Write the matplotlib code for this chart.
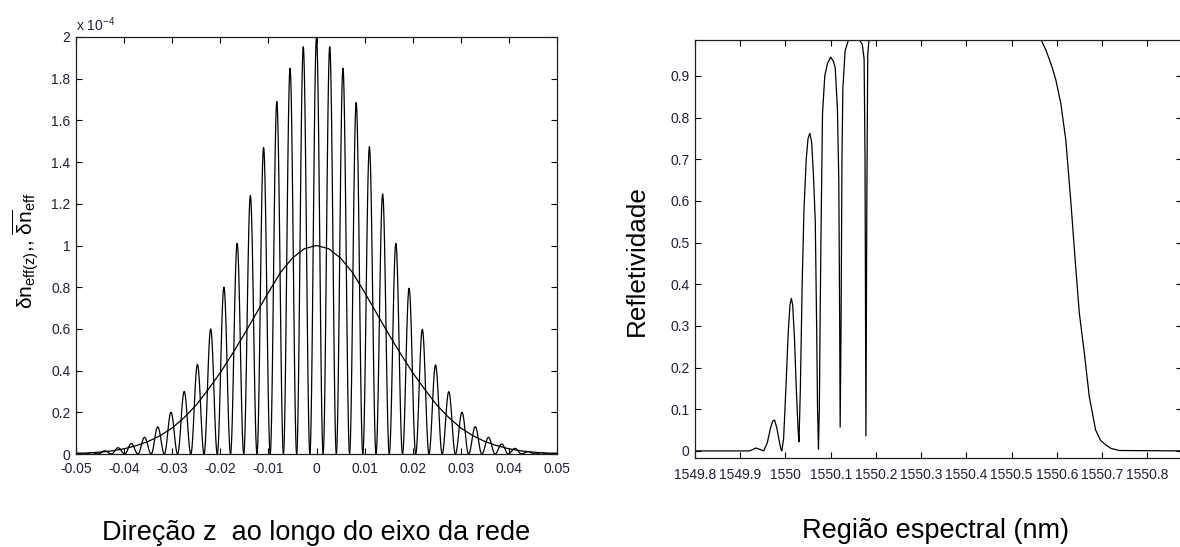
import numpy as np
import matplotlib
matplotlib.use("Agg")
import matplotlib.pyplot as plt
from matplotlib.ticker import FuncFormatter

plt.rcParams['font.family'] = ['Liberation Sans', 'DejaVu Sans']
plt.rcParams['mathtext.fontset'] = 'custom'
plt.rcParams['mathtext.rm'] = 'Liberation Sans'
plt.rcParams['mathtext.it'] = 'Liberation Sans:italic'
plt.rcParams['mathtext.bf'] = 'Liberation Sans:bold'

# --- index modulation along the grating (units of 1e-4) ---
grating_period = 0.00275
fringe_order = np.arange(-18, 19)
fringe_peak = [0.003, 0.007, 0.015, 0.03, 0.05, 0.08, 0.13, 0.20, 0.30, 0.43,
               0.60, 0.80, 1.01, 1.24, 1.47, 1.69, 1.85, 1.953, 2.0,
               1.953, 1.85, 1.685, 1.474, 1.247, 1.01, 0.795, 0.598, 0.427,
               0.299, 0.20, 0.131, 0.08, 0.048, 0.027, 0.011, 0.006, 0.003]

z_mean = np.arange(-0.05, 0.05001, 0.0025)
half_mean = [0.003, 0.005, 0.009, 0.015, 0.025, 0.04, 0.06, 0.088, 0.125,
             0.175, 0.235, 0.31, 0.39, 0.48, 0.575, 0.675, 0.775, 0.87,
             0.94, 0.985, 1.0]
dn_mean = half_mean + half_mean[-2::-1]

# --- reflection spectrum ---
wavelength = [1549.80, 1549.92, 1549.925, 1549.935, 1549.945, 1549.952,
              1549.960, 1549.967, 1549.972, 1549.976, 1549.981, 1549.986,
              1549.990, 1549.992,
              1549.996, 1550.001, 1550.006, 1550.010, 1550.013, 1550.016,
              1550.020, 1550.024, 1550.028, 1550.030,
              1550.033, 1550.037, 1550.041, 1550.046, 1550.050, 1550.054,
              1550.058, 1550.062, 1550.066, 1550.069, 1550.071, 1550.073,
              1550.075, 1550.077, 1550.079, 1550.082, 1550.087, 1550.093,
              1550.100, 1550.106, 1550.110, 1550.115, 1550.118, 1550.120,
              1550.121,
              1550.123, 1550.125, 1550.127, 1550.132, 1550.139, 1550.150,
              1550.162, 1550.170, 1550.174, 1550.176, 1550.178, 1550.180,
              1550.182, 1550.185, 1550.200, 1550.550, 1550.557, 1550.566,
              1550.576, 1550.590, 1550.598, 1550.609, 1550.620, 1550.631,
              1550.642, 1550.650, 1550.661, 1550.672, 1550.686, 1550.697,
              1550.709, 1550.720, 1550.738, 1550.875]
reflectivity = [0.0, 0.0, 0.002, 0.007, 0.003, 0.0,
                0.02, 0.055, 0.072, 0.074, 0.055, 0.025,
                0.004, 0.0,
                0.03, 0.15, 0.28, 0.35, 0.366, 0.35,
                0.27, 0.15, 0.05, 0.022,
                0.15, 0.40, 0.58, 0.70, 0.75, 0.762,
                0.74, 0.66, 0.55, 0.30, 0.10, 0.004,
                0.10, 0.35, 0.55, 0.81, 0.90, 0.93,
                0.945, 0.935, 0.92, 0.82, 0.65, 0.30,
                0.057,
                0.30, 0.70, 0.87, 0.96, 0.985, 0.999,
                0.99, 0.975, 0.94, 0.70, 0.036, 0.60,
                0.95, 0.99, 0.9995, 0.9995, 0.995, 0.985,
                0.962, 0.92, 0.89, 0.834, 0.746, 0.60,
                0.44, 0.33, 0.235, 0.13, 0.05, 0.025,
                0.014, 0.006, 0.001, 0.0]

tick_color = '#202038'
fmt = FuncFormatter(lambda v, p: '%g' % round(v, 6))


def matlab_axes(ax, xpad):
    ax.tick_params(direction='in', length=4, width=0.8, top=True, right=True,
                   labelsize=10, labelcolor=tick_color, pad=4)
    ax.tick_params(axis='x', pad=xpad)
    for s in ax.spines.values():
        s.set_linewidth(0.9)
        s.set_color('#202020')


fig = plt.figure(figsize=(11.8, 5.47), dpi=100)

# left panel: fringes of the apodised grating
ax1 = fig.add_axes([76/1180, 1 - 454/547, 481/1180, 417/547])
t = np.linspace(-0.5, 0.5, 41)
for k, h in zip(fringe_order, fringe_peak):
    zc = k * grating_period
    ax1.plot(zc + t * grating_period, h * (1 + np.cos(2 * np.pi * t)) / 2,
             color='black', lw=0.9)
ax1.plot([-0.05, -18.5 * grating_period], [0, 0], color='black', lw=0.9)
ax1.plot([18.5 * grating_period, 0.05], [0, 0], color='black', lw=0.9)
ax1.plot(z_mean, dn_mean, color='black', lw=0.9)
ax1.set_xlim(-0.05, 0.05)
ax1.set_ylim(0, 2)
ax1.set_xticks(np.arange(-0.05, 0.0501, 0.01))
ax1.set_yticks(np.arange(0, 2.01, 0.2))
ax1.xaxis.set_major_formatter(fmt)
ax1.yaxis.set_major_formatter(fmt)
matlab_axes(ax1, 6)
ax1.text(0.0, 1.008, r'x 10$^{-4}$', transform=ax1.transAxes, ha='left',
         va='bottom', fontsize=10, color=tick_color)

# right panel: reflection spectrum
ax2 = fig.add_axes([695/1180, 1 - 458/547, 487/1180, 418/547])
ax2.plot(wavelength, reflectivity, color='black', lw=0.9)
ax2.set_xlim(1549.8, 1550.877)
ax2.set_ylim(-0.017, 0.986)
ax2.set_xticks(np.arange(1549.8, 1550.81, 0.1))
ax2.set_yticks(np.arange(0, 0.91, 0.1))
ax2.xaxis.set_major_formatter(fmt)
ax2.yaxis.set_major_formatter(fmt)
matlab_axes(ax2, 7)

# axis titles
fig.text(316/1180, 1 - 533/547, 'Direção z  ao longo do eixo da rede',
         ha='center', va='center', fontsize=19.5)
fig.text(935/1180, 1 - 531/547, 'Região espectral (nm)',
         ha='center', va='center', fontsize=19.5)
fig.text(26/1180, 1 - 251/547,
         r'$\mathrm{δn}_{\mathrm{eff(z)}}$,, $\overline{\mathrm{δn}}_{\mathrm{eff}}$',
         ha='center', va='center', rotation=90, fontsize=15)
fig.text(637/1180, 1 - 261/547, 'Refletividade', ha='center', va='center',
         rotation=90, fontsize=18.8)

fig.savefig('out.png', dpi=100)
